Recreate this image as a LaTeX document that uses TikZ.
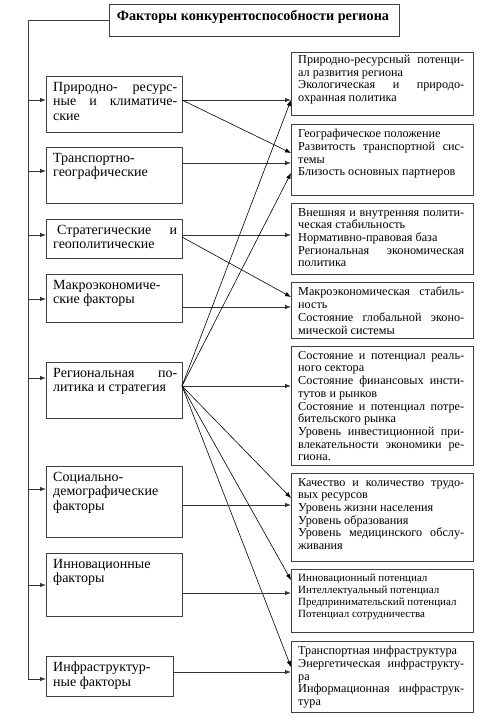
\documentclass[tikz,border=0pt]{standalone}
\usepackage{fontspec}
\setmainfont{Liberation Serif}
\usetikzlibrary{arrows.meta,calc}
\tolerance=10000
\hbadness=10000
\begin{document}
\begin{tikzpicture}[x=1pt,y=-1pt,
 box/.style={draw=black!75, line width=0.9pt, inner sep=0pt, outer sep=0pt, anchor=north west},
 ltext/.style={anchor=north west, inner sep=0pt, text width=124pt, align=justify, font=\fontsize{14}{14.5}\selectfont},
 rtext/.style={anchor=north west, inner sep=0pt, text width=166pt, align=justify, font=\fontsize{12.2}{12.7}\selectfont},
 trunk/.style={draw=black!75, line width=0.9pt},
 conn/.style={draw=black!80, line width=0.8pt, -{Latex[length=6pt,width=4.5pt]}},
 diag/.style={draw=black, line width=0.6pt, -{Latex[length=6pt,width=4.5pt]}},
]
\useasboundingbox (0,0) rectangle (500,720);
% title
\node[box, minimum width=290pt, minimum height=32pt] (T) at (109,4) {};
\node[font=\bfseries\fontsize{14.2}{16}\selectfont, inner sep=0pt] (Tt) at (253,17) {Факторы конкурентоспособности региона};
% left boxes
\node[box, minimum width=136pt, minimum height=56pt] (L1) at (46,76) {};
\node[box, minimum width=136pt, minimum height=56pt] (L2) at (46,147) {};
\node[box, minimum width=136pt, minimum height=39pt] (L3) at (46,219) {};
\node[box, minimum width=136pt, minimum height=48pt] (L4) at (46,274) {};
\node[box, minimum width=136pt, minimum height=56pt] (L5) at (46,362) {};
\node[box, minimum width=136pt, minimum height=71pt] (L6) at (46,466) {};
\node[box, minimum width=136pt, minimum height=63pt] (L7) at (46,553) {};
\node[box, minimum width=127pt, minimum height=40pt] (L8) at (46,656) {};
\node[ltext] (L1t) at ([shift={(7pt,-6pt)}]L1.north west) {Природно- ресурс-\linebreak ные и климатиче-\linebreak ские};
\node[ltext] (L2t) at ([shift={(7pt,-6pt)}]L2.north west) {Транспортно-\\географические};
\node[ltext] (L3t) at ([shift={(7pt,-6pt)}]L3.north west) {\hspace*{4pt}Стратегические и\linebreak геополитические};
\node[ltext] (L4t) at ([shift={(7pt,-6pt)}]L4.north west) {Макроэкономиче-\\ские факторы};
\node[ltext] (L5t) at ([shift={(7pt,-6pt)}]L5.north west) {Региональная по-\linebreak литика и стратегия};
\node[ltext] (L6t) at ([shift={(7pt,-6pt)}]L6.north west) {Социально-\\демографические\\факторы};
\node[ltext] (L7t) at ([shift={(7pt,-6pt)}]L7.north west) {Инновационные\\факторы};
\node[ltext] (L8t) at ([shift={(7pt,-6pt)}]L8.north west) {Инфраструктур-\\ные факторы};
% right boxes
\node[box, minimum width=182pt, minimum height=63pt] (R1) at (291,52) {};
\node[box, minimum width=182pt, minimum height=71pt] (R2) at (291,124) {};
\node[box, minimum width=182pt, minimum height=71pt] (R3) at (291,203) {};
\node[box, minimum width=182pt, minimum height=56pt] (R4) at (291,282) {};
\node[box, minimum width=182pt, minimum height=119pt] (R5) at (291,346) {};
\node[box, minimum width=182pt, minimum height=88pt] (R6) at (291,473) {};
\node[box, minimum width=182pt, minimum height=63pt] (R7) at (291,569) {};
\node[box, minimum width=182pt, minimum height=71pt] (R8) at (291,641) {};
\node[rtext] (R1t) at ([shift={(7pt,-3pt)}]R1.north west) {Природно-ресурсный потенци-\linebreak ал развития региона\\Экологическая и природо-\linebreak охранная политика};
\node[rtext] (R2t) at ([shift={(7pt,-5pt)}]R2.north west) {Географическое положение\\Развитость транспортной сис-\linebreak темы\\Близость основных партнеров};
\node[rtext] (R3t) at ([shift={(7pt,-5pt)}]R3.north west) {Внешняя и внутренняя полити-\linebreak ческая стабильность\\Нормативно-правовая база\\Региональная экономическая\linebreak политика};
\node[rtext] (R4t) at ([shift={(7pt,-5pt)}]R4.north west) {Макроэкономическая стабиль-\linebreak ность\\Состояние глобальной эконо-\linebreak мической системы};
\node[rtext] (R5t) at ([shift={(7pt,-5pt)}]R5.north west) {Состояние и потенциал реаль-\linebreak ного сектора\\Состояние финансовых инсти-\linebreak тутов и рынков\\Состояние и потенциал потре-\linebreak бительского рынка\\Уровень инвестиционной при-\linebreak влекательности экономики ре-\linebreak гиона.};
\node[rtext] (R6t) at ([shift={(7pt,-5pt)}]R6.north west) {Качество и количество трудо-\linebreak вых ресурсов\\Уровень жизни населения\\Уровень образования\\Уровень медицинского обслу-\linebreak живания};
\node[rtext, font=\fontsize{11}{12}\selectfont] (R7t) at ([shift={(7pt,-5pt)}]R7.north west) {Инновационный потенциал\\Интеллектуальный потенциал\\Предпринимательский потенциал\\Потенциал сотрудничества};
\node[rtext] (R8t) at ([shift={(7pt,-5pt)}]R8.north west) {Транспортная инфраструктура\\Энергетическая инфраструкту-\linebreak ра\\Информационная инфраструк-\linebreak тура};
% trunk
\coordinate (tb) at (28,679);
\draw[trunk] (T.west) -| (tb);
\draw[conn] (tb |- 0,100) -- (L1.west |- 0,100);
\draw[conn] (tb |- 0,171) -- (L2.west |- 0,171);
\draw[conn] (tb |- 0,235) -- (L3.west |- 0,235);
\draw[conn] (tb |- 0,299) -- (L4.west |- 0,299);
\draw[conn] (tb |- 0,378) -- (L5.west |- 0,378);
\draw[conn] (tb |- 0,489) -- (L6.west |- 0,489);
\draw[conn] (tb |- 0,585) -- (L7.west |- 0,585);
\draw[conn] (tb) -- (L8.west |- 0,679);
% connectors
\draw[conn] (L1.east |- 0,100) -- (R1.west |- 0,100);
\draw[diag] (L1.east |- 0,100) -- (R2.west |- 0,153);
\draw[conn] (L2.east |- 0,163) -- (R2.west |- 0,163);
\draw[conn] (L3.east |- 0,235) -- (R3.west |- 0,235);
\draw[diag] (L3.east |- 0,237) -- (R4.west |- 0,297);
\draw[conn] (L4.east |- 0,307) -- (R4.west |- 0,307);
\draw[conn] (L5.east |- 0,386) -- (R5.west |- 0,386);
\draw[diag] (L5.east |- 0,386) -- (R1.west |- 0,100);
\draw[diag] (L5.east |- 0,386) -- (R2.west |- 0,173);
\draw[diag] (L5.east |- 0,386) -- (R6.west |- 0,498);
\draw[diag] (L5.east |- 0,386) -- (R7.west |- 0,580);
\draw[diag] (L5.east |- 0,386) -- (R8.west |- 0,667);
\draw[conn] (L6.east |- 0,505) -- (R6.west |- 0,505);
\draw[conn] (L7.east |- 0,593) -- (R7.west |- 0,593);
\draw[conn] (L8.east |- 0,672) -- (R8.west |- 0,672);
\end{tikzpicture}
\end{document}
